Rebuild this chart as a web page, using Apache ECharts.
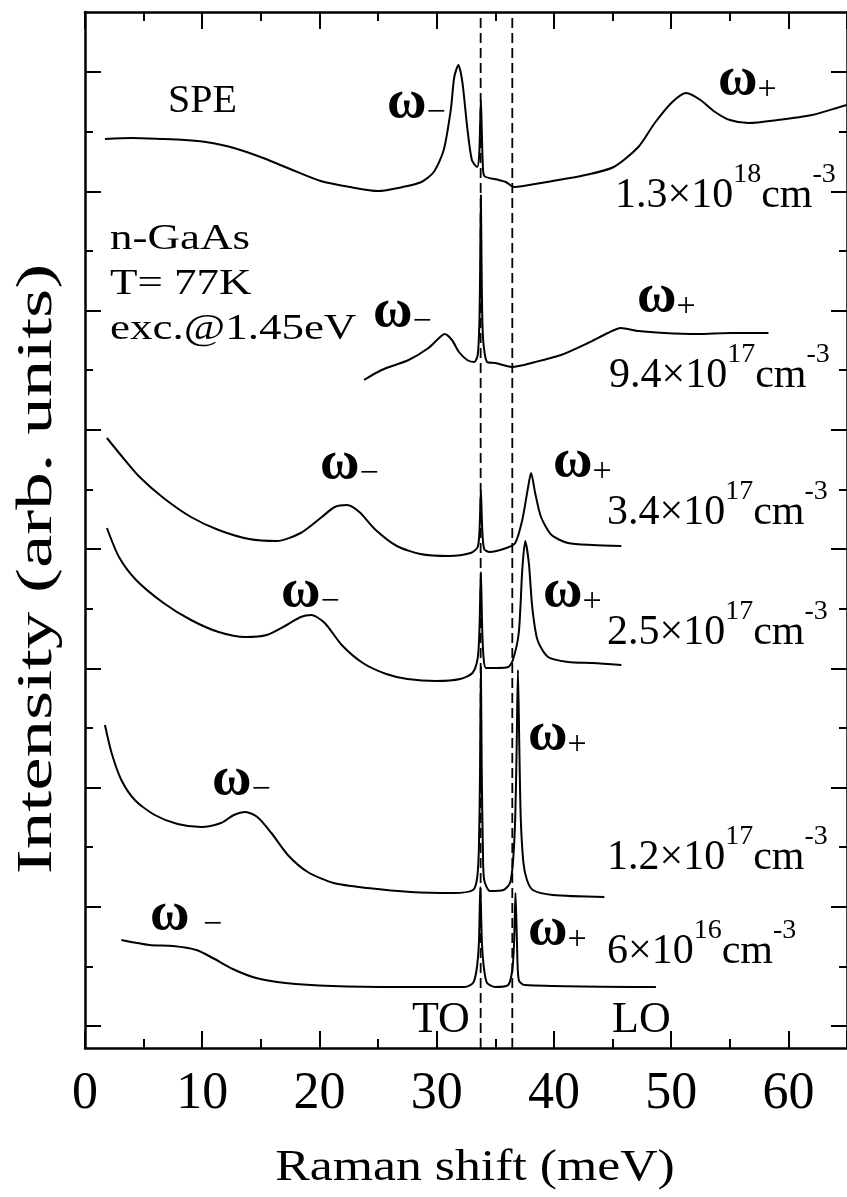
<!DOCTYPE html>
<html>
<head>
<meta charset="utf-8">
<script src="https://cdn.jsdelivr.net/npm/echarts@6/dist/echarts.min.js"></script>
<style>
html,body{margin:0;padding:0;background:#fff;}
#c{width:847px;height:1197px;}
</style>
</head>
<body>
<div id="c"></div>
<script>
// ---------- data (x: Raman shift in meV, y: intensity in arb. units, curves offset) ----------
const X_MIN = 0, X_MAX = 65, X_STEP = 10;
const Y_MIN = 0, Y_MAX = 103.6;
const TO_X = 33.75;
const LO_X = 36.45;

// 1.3e18 cm^-3
const S1 = [[1.7,90.9],[4,91.0],[6.6,90.9],[8.5,90.8],[10.3,90.6],[12.7,90.0],[15.2,89.0],[17.7,87.8],[20.1,86.7],[22.6,86.1],[25.0,85.7],[27.1,86.1],[28.7,86.6],[29.75,87.6],[30.6,89.8],[31.2,93.8],[31.5,97.1],[31.85,98.3],[32.2,96.5],[32.6,92.1],[33.0,88.8],[33.45,88.1],[33.62,89.2],[33.71,92.5],[33.77,94.8],[33.84,92],[33.93,88.5],[34.06,87.2],[35.3,86.8],[35.9,86.6],[36.6,86.1],[39.4,86.6],[42.7,87.3],[45.1,88.1],[47.2,90.1],[48.6,92.5],[50.1,94.6],[51.3,95.5],[52.5,94.8],[53.75,93.6],[55.0,92.8],[56.6,92.5],[59.1,92.8],[62.0,93.3],[64.4,94.1],[65,94.3]];
// 9.4e17 cm^-3
const S2 = [[23.8,66.8],[25.3,67.8],[27.6,68.8],[29.3,70.0],[30.2,71.0],[30.67,71.4],[31.3,70.8],[31.9,69.6],[32.6,68.8],[33.2,68.6],[33.5,69.3],[33.64,72.5],[33.71,78],[33.77,85.3],[33.83,78],[33.9,72.5],[34.02,70.1],[34.3,68.6],[35.0,68.5],[36.4,68.1],[38.4,68.6],[40.6,69.3],[42.9,70.5],[44.6,71.5],[45.7,72.0],[47.2,71.7],[49.4,71.5],[52.25,71.4],[55.1,71.5],[58.3,71.5]];
// 3.4e17 cm^-3
const S3 = [[1.87,61.0],[3.19,59.1],[4.66,57.1],[6.7,55.0],[9.04,53.1],[11.4,51.8],[14.0,50.9],[16.35,50.7],[18.4,51.5],[20.2,53.1],[21.3,54.1],[22.35,54.3],[23.4,53.6],[24.8,51.8],[26.6,50.2],[28.6,49.4],[31.0,49.2],[32.9,49.5],[33.5,50.1],[33.66,52],[33.77,55.8],[33.88,52],[34.05,49.9],[34.5,49.6],[35.95,50.0],[36.7,50.5],[37.3,52.8],[37.8,56.1],[38.05,57.5],[38.4,55.5],[38.9,53.1],[39.8,51.3],[41.2,50.5],[43.3,50.3],[45.75,50.2]];
// 2.5e17 cm^-3
const S4 = [[1.87,52.0],[2.9,49.1],[4.36,46.8],[6.7,44.5],[9.04,42.8],[11.4,41.6],[13.7,41.1],[15.5,41.3],[17.2,42.3],[18.4,43.1],[19.3,43.3],[20.45,42.5],[21.9,40.3],[23.7,38.5],[25.7,37.4],[27.5,36.9],[30.0,36.7],[32.0,36.9],[33.05,37.5],[33.5,39],[33.65,42],[33.77,47.6],[33.88,42],[34.0,39],[34.2,38.0],[35.1,38.0],[36.1,38.1],[36.5,38.8],[37.0,41.5],[37.3,47.8],[37.55,50.7],[37.86,48.5],[38.15,44.1],[38.6,40.8],[39.5,39.1],[41.2,38.6],[43.3,38.5],[45.75,38.3]];
// 1.2e17 cm^-3
const S5 = [[1.7,32.3],[2.27,29.5],[3.1,26.8],[4.25,24.8],[5.95,23.3],[7.9,22.4],[9.9,22.1],[11.6,22.5],[12.7,23.3],[13.7,23.6],[14.7,23.1],[15.9,21.5],[17.3,19.3],[19.0,17.6],[21.2,16.5],[24.1,16.0],[27.8,15.6],[31.4,15.5],[33.1,15.8],[33.45,17],[33.6,20],[33.7,28],[33.77,38.1],[33.84,28],[33.94,20],[34.05,16.8],[34.55,15.7],[35.7,15.8],[36.25,16.5],[36.5,18.5],[36.7,23],[36.82,30],[36.93,37.8],[37.05,30],[37.17,23],[37.4,18.5],[37.7,16.8],[38.2,15.8],[39.9,15.3],[44.3,15.1]];
// 6e16 cm^-3
const S6 = [[3.1,10.8],[5.5,10.3],[7.5,10.2],[9.5,9.8],[10.9,9.0],[12.6,7.9],[14.6,7.0],[17.1,6.5],[21.1,6.2],[26.8,6.1],[32.4,6.1],[33.1,6.5],[33.4,7.8],[33.6,10.5],[33.72,16.1],[33.86,10.5],[34.05,7.8],[34.3,6.5],[35.0,6.1],[36.1,6.3],[36.45,7.8],[36.6,10.5],[36.72,15.5],[36.85,10.5],[37.0,6.8],[37.5,6.3],[48.7,6.1]];

const densityMain = ['1.3×10','9.4×10','3.4×10','2.5×10','1.2×10','6×10'];
const densityExp  = ['18','17','17','17','17','16'];
const modeLabels = ['ω−','ω+','ω−','ω+','ω−','ω+','ω−','ω+','ω−','ω+','ω −','ω+'];
const sampleLines = ['n-GaAs','T= 77K','exc.@1.45eV'];

// ---------- chart ----------
const FONT = '"Liberation Serif","Times New Roman",serif';
const chart = echarts.init(document.getElementById('c'), null, {renderer:'canvas'});

const axisLineStyle = {color:'#000', width:2.5};
const tickStyle = {color:'#000', width:2};

function xAxisDef(pos, showLabel){
  return {
    gridIndex:0, type:'value', min:X_MIN, max:X_MAX, interval:X_STEP, position:pos,
    axisLine:{show:true, onZero:false, lineStyle:axisLineStyle},
    axisTick:{show:true, inside:true, length:17, lineStyle:tickStyle},
    minorTick:{show:true, splitNumber:2, length:9, lineStyle:tickStyle},
    splitLine:{show:false}, minorSplitLine:{show:false},
    axisLabel:{show:showLabel, color:'#000', fontFamily:FONT, fontSize:52, margin:20, showMaxLabel:false}
  };
}
function yBox(pos){
  return {gridIndex:0, type:'value', min:Y_MIN, max:Y_MAX, position:pos,
    axisLine:{show:true, onZero:false, lineStyle:axisLineStyle},
    axisTick:{show:false}, axisLabel:{show:false}, splitLine:{show:false}};
}
function yTicks(pos){
  return {gridIndex:1, type:'value', min:0, max:8, interval:1, position:pos,
    axisLine:{show:false, onZero:false},
    axisTick:{show:true, inside:true, length:16, lineStyle:tickStyle},
    minorTick:{show:true, splitNumber:2, length:8, lineStyle:tickStyle},
    axisLabel:{show:false}, splitLine:{show:false}, minorSplitLine:{show:false}};
}

const spectra = [S1,S2,S3,S4,S5,S6];
const series = spectra.map(d => ({
  type:'line', data:d, xAxisIndex:0, yAxisIndex:0, symbol:'none', showSymbol:false,
  smooth:0.25, lineStyle:{color:'#000', width:2}, z:3, silent:true
}));
[TO_X, LO_X].forEach(x => series.push({
  type:'line', data:[[x,Y_MIN],[x,Y_MAX]], xAxisIndex:0, yAxisIndex:0, symbol:'none',
  lineStyle:{color:'#000', width:1.8, type:[10,5]}, z:2, silent:true
}));

// ---------- text annotations ----------
function plain(x, baseline, text, size, opt){
  opt = opt || {};
  return {type:'text', x:x, y:baseline - 0.3375*size, scaleX:opt.sx||1, silent:true, z:10,
    style:{text:text, fill:'#000', fontFamily:FONT, fontSize:size, fontWeight:opt.bold?'bold':'normal',
      align:'left', verticalAlign:'middle'}};
}
// superscript layout: main token bottom-aligned in a tall line, exponent top-aligned
const DM = 42, DS = 28, DL = 56;
function density(x, baseline, main, exp){
  return {type:'text', x:x, y:baseline - (DL - 0.1625*DM), silent:true, z:10,
    style:{text:'{m|'+main+'}{s|'+exp+'}{m|cm}{s|-3}', fill:'#000', align:'left', verticalAlign:'top',
      rich:{
        m:{fontFamily:FONT, fontSize:DM, lineHeight:DL, verticalAlign:'bottom', fill:'#000'},
        s:{fontFamily:FONT, fontSize:DS, lineHeight:DS, verticalAlign:'top', fill:'#000'}
      }}};
}
const WF = 54, SF = 34;
function mode(x, baseline, label){
  const w = label.slice(0, label.length-1), s = label.slice(-1);
  return {type:'text', x:x, y:baseline - (WF/2 + 0.3375*WF), silent:true, z:10,
    style:{text:'{w|'+w+'}{s|'+s+'}', fill:'#000', align:'left', verticalAlign:'top',
      rich:{
        w:{fontFamily:FONT, fontSize:WF, fontWeight:'bold', lineHeight:WF, verticalAlign:'bottom', fill:'#000'},
        s:{fontFamily:FONT, fontSize:SF, lineHeight:SF, verticalAlign:'bottom', fill:'#000'}
      }}};
}

const modePos = [[387,121],[718,98],[373,330],[637,315],[320,482],[553,480],[281,610],[543,610],[212,798],[528,753],[150,933],[528,948]];
const densPos = [[615,210],[609,390],[607,527],[607,647],[607,872],[607,966]];

const graphics = [];
modeLabels.forEach((m,i) => graphics.push(mode(modePos[i][0], modePos[i][1], m)));
densityMain.forEach((m,i) => graphics.push(density(densPos[i][0], densPos[i][1], m, densityExp[i])));
graphics.push(plain(168,115,'SPE',40));
sampleLines.forEach((t,i) => graphics.push(plain(110, 252 + 45*i, t, 36, {sx:1.25})));
graphics.push(plain(412,1035,'TO',44));
graphics.push(plain(612,1035,'LO',44));
// axis titles
graphics.push({type:'text', x:475, y:1168, scaleX:1.15, silent:true,
  style:{text:'Raman shift (meV)', fill:'#000', fontFamily:FONT, fontSize:45, align:'center', verticalAlign:'middle'}});
graphics.push({type:'text', x:38, y:569, rotation:Math.PI/2, scaleX:1.5, silent:true,
  style:{text:'Intensity (arb. units)', fill:'#000', fontFamily:FONT, fontSize:50, align:'center', verticalAlign:'middle'}});

chart.setOption({
  animation:false,
  backgroundColor:'#fff',
  grid:[
    {left:85, top:12, width:765, height:1036},
    {left:85, top:72, width:765, height:954}
  ],
  xAxis:[ xAxisDef('bottom', true), xAxisDef('top', false),
    {gridIndex:1, type:'value', min:X_MIN, max:X_MAX, show:false} ],
  yAxis:[ yBox('left'), yBox('right'), yTicks('left'), yTicks('right') ],
  series:series,
  graphic:graphics
});
</script>
</body>
</html>
